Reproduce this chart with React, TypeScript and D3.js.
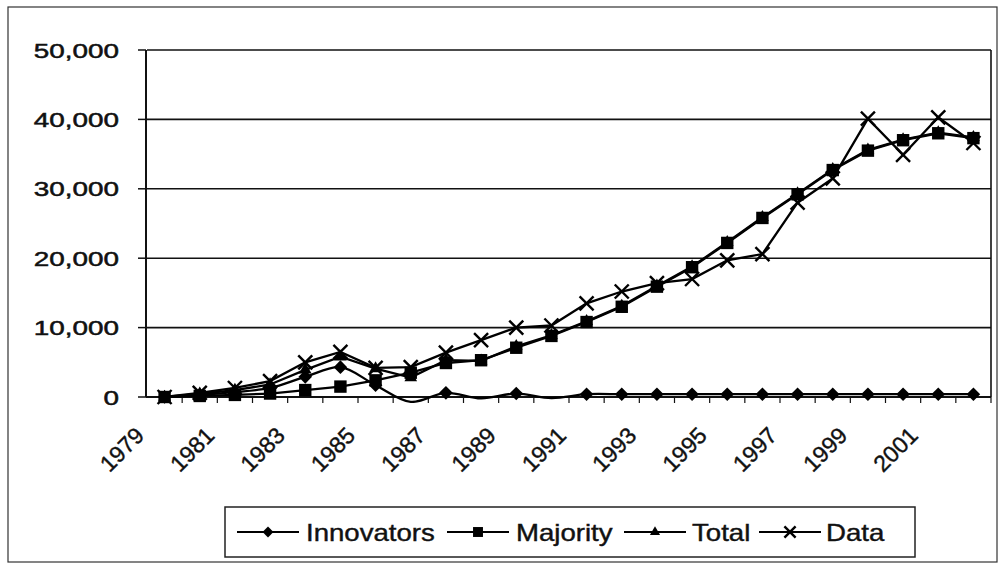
import React from 'react';
import * as d3 from 'd3';

const years = ['1979','1980','1981','1982','1983','1984','1985','1986','1987','1988','1989','1990','1991','1992','1993','1994','1995','1996','1997','1998','1999','2000','2001','2002'];
const innovators = [0,300,700,1300,2900,4300,1700,-700,600,-200,500,-150,400,400,400,400,400,400,400,400,400,400,400,400];
const majority = [0,150,300,500,1000,1500,2400,3500,4900,5300,7100,8800,10800,13000,15900,18700,22200,25800,29200,32700,35500,37000,38000,37300];
const total = [0,450,1000,1800,3900,5800,4100,2800,5300,5200,7300,8900,10900,13100,16000,18800,22300,25900,29300,32800,35600,37100,38100,37400];
const dataSeries = [0,600,1300,2300,5000,6500,4200,4300,6400,8200,10000,10300,13500,15200,16400,17000,19700,20600,28000,31500,40100,34900,40300,36600];
const yTicks = [0,10000,20000,30000,40000,50000];
const legendNames = ['Innovators','Majority','Total','Data'];

type Kind = 'diamond' | 'square' | 'triangle' | 'x';

function Marker({ kind, x, y, s = 1 }: { kind: Kind; x: number; y: number; s?: number }) {
  if (kind === 'diamond') {
    const r = 6.8 * s;
    return <path d={`M${x},${y - r}L${x + r},${y}L${x},${y + r}L${x - r},${y}Z`} fill="#000" />;
  }
  if (kind === 'square') {
    const r = 6.2 * s;
    return <rect x={x - r} y={y - r} width={2 * r} height={2 * r} fill="#000" />;
  }
  if (kind === 'triangle') {
    const p = d3.symbol(d3.symbolTriangle, 70 * s * s)();
    return <path d={p || ''} transform={`translate(${x},${y})`} fill="#000" />;
  }
  const r = 7 * s;
  return (
    <g stroke="#000" strokeWidth={2.4}>
      <line x1={x - r} y1={y - r} x2={x + r} y2={y + r} />
      <line x1={x - r} y1={y + r} x2={x + r} y2={y - r} />
    </g>
  );
}

export default function App() {
  const W = 1003, H = 565;
  const L = 147, R = 991, T = 50, B = 397;
  const x = d3.scaleBand<string>().domain(years).range([L, R]).padding(0);
  const cx = (yr: string) => (x(yr) ?? 0) + x.bandwidth() / 2;
  const y = d3.scaleLinear().domain([0, 50000]).range([B, T]);
  const fmt = d3.format(',');

  const series: { name: string; values: number[]; kind: Kind; smooth: boolean }[] = [
    { name: 'Innovators', values: innovators, kind: 'diamond', smooth: true },
    { name: 'Total', values: total, kind: 'triangle', smooth: false },
    { name: 'Majority', values: majority, kind: 'square', smooth: false },
    { name: 'Data', values: dataSeries, kind: 'x', smooth: false },
  ];

  const lineGen = (smooth: boolean) =>
    d3.line<number>()
      .x((_, i) => cx(years[i]))
      .y((v) => y(v))
      .curve(smooth ? d3.curveCatmullRom.alpha(0.5) : d3.curveLinear);

  const legendKinds: Kind[] = ['diamond', 'square', 'triangle', 'x'];
  const legendSym = [268, 478, 655, 790];
  const legendText = [306, 516, 692, 826];
  const legendY = 532;
  const ink = '#111';

  return (
    <div style={{ position: 'absolute', left: 0, top: 0 }}>
      <svg width={W} height={H} style={{ display: 'block', background: '#fff' }} fontFamily="Arial, 'Liberation Sans', sans-serif">
        <defs>
          <clipPath id="plotclip">
            <rect x={L} y={T - 10} width={R - L} height={B - T + 16} />
          </clipPath>
        </defs>
        <rect x={8} y={7} width={989} height={555} fill="none" stroke="#333" strokeWidth={1.2} />

        {/* gridlines */}
        {yTicks.map((t) => (
          <line key={'g' + t} x1={L} x2={R} y1={y(t)} y2={y(t)} stroke={ink} strokeWidth={1.6} />
        ))}
        {/* plot borders */}
        <line x1={R} x2={R} y1={T} y2={B} stroke={ink} strokeWidth={1.6} />
        <line x1={L - 1} x2={L - 1} y1={T} y2={B} stroke={ink} strokeWidth={2} />
        <line x1={L - 1} x2={R} y1={B} y2={B} stroke={ink} strokeWidth={2} />

        {/* y ticks + labels */}
        {yTicks.map((t) => (
          <g key={'y' + t}>
            <line x1={L - 9} x2={L - 1} y1={y(t)} y2={y(t)} stroke={ink} strokeWidth={1.5} />
            <g transform={`translate(119,${y(t) + 7.5}) scale(1.36,1)`}>
              <text textAnchor="end" fontSize={20.5} fill={ink} stroke={ink} strokeWidth={0.5}>{fmt(t)}</text>
            </g>
          </g>
        ))}

        {/* x ticks */}
        {years.map((yr) => (
          <line key={'xt' + yr} x1={(x(yr) ?? 0) + x.bandwidth()} x2={(x(yr) ?? 0) + x.bandwidth()} y1={B} y2={B + 6} stroke={ink} strokeWidth={1.2} />
        ))}
        {/* x labels */}
        {years.map((yr, i) =>
          i % 2 === 0 ? (
            <g key={'xl' + yr} transform={`translate(${cx(yr) - 19},${B + 40}) rotate(-45)`}>
              <text textAnchor="end" fontSize={23} fill={ink} stroke={ink} strokeWidth={0.4}>{yr}</text>
            </g>
          ) : null
        )}

        {/* lines */}
        <g clipPath="url(#plotclip)">
          {series.map((s) => (
            <path key={'l' + s.name} d={lineGen(s.smooth)(s.values) || ''} fill="none" stroke="#000" strokeWidth={2.3} />
          ))}
        </g>
        {/* markers */}
        {series.map((s) => (
          <g key={'m' + s.name}>
            {s.values.map((v, i) =>
              v >= 0 && v <= 50000 ? <Marker key={i} kind={s.kind} x={cx(years[i])} y={y(v)} /> : null
            )}
          </g>
        ))}

        {/* legend */}
        <rect x={225} y={507} width={690} height={50} fill="#fff" stroke="#222" strokeWidth={1.5} />
        {legendNames.map((n, i) => (
          <g key={'lg' + n}>
            <line x1={legendSym[i] - 31} x2={legendSym[i] + 31} y1={legendY} y2={legendY} stroke="#000" strokeWidth={2} />
            <Marker kind={legendKinds[i]} x={legendSym[i]} y={legendY} s={0.8} />
            <g transform={`translate(${legendText[i]},${legendY + 8.5}) scale(1.2,1)`}>
              <text fontSize={23} fill={ink} stroke={ink} strokeWidth={0.4}>{n}</text>
            </g>
          </g>
        ))}
      </svg>
    </div>
  );
}
